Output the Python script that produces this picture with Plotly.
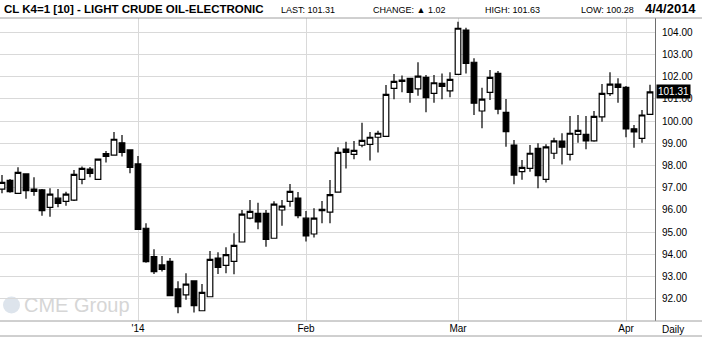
import plotly.graph_objects as go

# ---- data ----
dates = [
    "2013-12-06", "2013-12-09", "2013-12-10", "2013-12-11", "2013-12-12", "2013-12-13",
    "2013-12-16", "2013-12-17", "2013-12-18", "2013-12-19", "2013-12-20", "2013-12-23",
    "2013-12-24", "2013-12-26", "2013-12-27", "2013-12-30", "2013-12-31",
    "2014-01-02", "2014-01-03", "2014-01-06", "2014-01-07", "2014-01-08", "2014-01-09",
    "2014-01-10", "2014-01-13", "2014-01-14", "2014-01-15", "2014-01-16", "2014-01-17",
    "2014-01-21", "2014-01-22", "2014-01-23", "2014-01-24", "2014-01-27", "2014-01-28",
    "2014-01-29", "2014-01-30", "2014-01-31",
    "2014-02-03", "2014-02-04", "2014-02-05", "2014-02-06", "2014-02-07", "2014-02-10",
    "2014-02-11", "2014-02-12", "2014-02-13", "2014-02-14", "2014-02-18", "2014-02-19",
    "2014-02-20", "2014-02-21", "2014-02-24", "2014-02-25", "2014-02-26", "2014-02-27",
    "2014-02-28",
    "2014-03-03", "2014-03-04", "2014-03-05", "2014-03-06", "2014-03-07", "2014-03-10",
    "2014-03-11", "2014-03-12", "2014-03-13", "2014-03-14", "2014-03-17", "2014-03-18",
    "2014-03-19", "2014-03-20", "2014-03-21", "2014-03-24", "2014-03-25", "2014-03-26",
    "2014-03-27", "2014-03-28", "2014-03-31",
    "2014-04-01", "2014-04-02", "2014-04-03", "2014-04-04",
]
opens = [
    96.94, 97.33, 96.75, 97.62, 96.84, 96.90, 96.12, 96.53, 96.39, 96.44, 97.38, 97.84,
    97.38, 98.53, 98.47, 99.02, 98.70,
    98.07, 95.18, 93.90, 93.53, 93.69, 92.45, 92.18, 92.81, 91.47, 92.10, 93.84, 93.51,
    93.69, 94.56, 95.63, 95.85, 95.85, 94.73, 96.00, 96.39, 96.54,
    95.63, 94.92, 96.03, 95.90, 96.80, 98.74, 98.50, 98.91, 98.95, 99.27, 99.31, 101.47,
    101.84, 101.92, 101.44, 101.96, 101.24, 101.69, 101.35,
    102.10, 104.09, 102.64, 100.45, 101.29, 102.14, 100.39, 98.92, 97.72, 97.87, 98.77,
    97.38, 98.55, 99.10, 98.50, 99.40, 99.40, 99.11, 100.19, 101.23, 101.66,
    101.51, 99.65, 99.22, 100.30,
]
highs = [
    97.57, 97.39, 97.92, 97.65, 97.47, 96.94, 96.98, 96.94, 96.82, 97.80, 97.95, 97.93,
    98.32, 98.65, 99.51, 99.37, 98.72,
    98.43, 95.40, 94.23, 93.93, 93.84, 92.80, 93.16, 92.81, 92.67, 94.16, 94.10, 94.32,
    94.95, 96.00, 96.45, 96.33, 96.00, 96.39, 96.45, 97.17, 96.81,
    95.96, 96.08, 96.40, 97.35, 98.82, 99.07, 99.10, 99.92, 99.51, 99.56, 101.62, 102.11,
    102.05, 101.92, 102.64, 102.07, 102.07, 102.14, 102.19,
    104.46, 104.19, 102.82, 101.50, 102.29, 102.25, 100.99, 99.15, 98.25, 98.92, 99.00,
    98.95, 99.25, 99.45, 100.22, 100.27, 100.22, 100.45, 101.66, 102.19, 101.92,
    101.57, 99.82, 100.49, 101.63,
]
lows = [
    96.75, 96.78, 96.75, 96.51, 96.64, 95.74, 95.70, 96.12, 96.19, 96.40, 97.16, 97.47,
    97.35, 98.14, 98.47, 98.40, 97.65,
    95.10, 93.63, 93.12, 93.23, 92.15, 91.36, 91.96, 91.39, 91.47, 92.10, 93.12, 93.16,
    93.11, 94.56, 95.58, 95.13, 94.35, 94.73, 95.29, 96.15, 95.63,
    94.58, 94.76, 95.40, 95.40, 96.78, 97.87, 98.28, 98.82, 98.22, 98.58, 99.31, 100.98,
    101.29, 100.82, 101.14, 100.39, 100.82, 100.98, 101.07,
    102.10, 102.14, 100.27, 99.67, 100.94, 100.30, 98.84, 97.16, 97.36, 97.72, 96.98,
    97.24, 98.29, 98.05, 98.22, 99.02, 98.73, 99.07, 99.97, 101.12, 100.82,
    99.27, 98.80, 99.02, 100.28,
]
closes = [
    97.24, 96.82, 97.69, 96.87, 96.94, 95.97, 96.71, 96.30, 96.71, 97.60, 97.87, 97.65,
    98.29, 98.41, 99.18, 98.59, 97.92,
    95.13, 93.68, 93.23, 93.33, 92.15, 91.65, 92.67, 91.70, 92.30, 93.78, 93.42, 93.99,
    94.41, 95.81, 95.94, 95.47, 94.68, 96.26, 96.17, 96.84, 95.74,
    94.84, 95.63, 95.97, 96.69, 98.59, 98.59, 98.68, 99.13, 99.27, 99.45, 101.20, 101.78,
    101.78, 101.29, 102.02, 101.05, 101.72, 101.56, 101.87,
    104.17, 102.59, 100.80, 100.98, 101.96, 100.53, 99.52, 97.57, 97.92, 98.55, 97.54,
    98.84, 99.11, 98.82, 99.45, 99.58, 99.11, 100.21, 101.24, 101.66, 101.51,
    99.64, 99.51, 100.27, 101.31,
]
tick_dates = ["2014-01-02", "2014-02-03", "2014-03-03", "2014-04-01"]
tick_text = ["'14", "Feb", "Mar", "Apr"]
y_ticks = [92, 93, 94, 95, 96, 97, 98, 99, 100, 101, 102, 103, 104]

title_text = "CL K4=1 [10] - LIGHT CRUDE OIL-ELECTRONIC"
last_val = 101.31
change_val = 1.02
high_val = 101.63
low_val = 100.28
date_text = "4/4/2014"

# ---- layout geometry (pixels) ----
W, H = 702, 337
PL, PR, PT, PB = 0, 655, 18, 321
pw, ph = PR - PL, PB - PT


def px(x):
    return (x - PL) / pw


def py(y):
    return (PB - y) / ph


fig = go.Figure()
fig.add_trace(go.Candlestick(
    x=dates, open=opens, high=highs, low=lows, close=closes,
    increasing=dict(line=dict(color="#000000", width=1.2), fillcolor="#ffffff"),
    decreasing=dict(line=dict(color="#000000", width=1.2), fillcolor="#000000"),
    whiskerwidth=0,
    showlegend=False,
    hoverinfo="skip",
))

base_font = "Liberation Sans, Arial, sans-serif"

fig.update_layout(
    width=W, height=H,
    margin=dict(l=PL, r=W - PR, t=PT, b=H - PB, pad=0),
    paper_bgcolor="#ffffff",
    plot_bgcolor="#ffffff",
    boxgap=0.3, boxgroupgap=0.0,
    font=dict(family=base_font, size=10, color="#000000"),
    xaxis=dict(
        type="category",
        categoryorder="array", categoryarray=dates,
        range=[-0.25, len(dates) - 1 + 0.625],
        rangeslider=dict(visible=False),
        tickmode="array", tickvals=tick_dates, ticktext=tick_text,
        showgrid=True, gridcolor="#d9d9d9", gridwidth=1,
        showline=False, zeroline=False, ticks="",
        tickfont=dict(size=10, family=base_font, color="#000000"),
        fixedrange=True,
    ),
    yaxis=dict(
        side="right",
        range=[91.01, 104.63],
        tickmode="array", tickvals=y_ticks,
        tickformat=".2f",
        showgrid=True, gridcolor="#d9d9d9", gridwidth=1,
        showline=True, linecolor="#6e6e6e", linewidth=1,
        zeroline=False, ticks="",
        ticklabelstandoff=4,
        tickfont=dict(size=10, family=base_font, color="#000000"),
        fixedrange=True,
    ),
)

xr = W / pw  # paper x of right page edge

shapes = [
    dict(type="line", xref="paper", yref="paper", x0=0, x1=xr, y0=py(18), y1=py(18),
         line=dict(color="#a0a0a0", width=1)),
    dict(type="line", xref="paper", yref="paper", x0=0, x1=xr, y0=0, y1=0,
         line=dict(color="#a0a0a0", width=1)),
    dict(type="line", xref="paper", yref="paper", x0=0, x1=xr, y0=py(336), y1=py(336),
         line=dict(color="#a0a0a0", width=1)),
    dict(type="circle", xref="paper", yref="paper", x0=px(3), x1=px(20), y0=py(313.5), y1=py(296.5),
         line=dict(width=0), fillcolor="#dde4ec", layer="below"),
]

annotations = [
    dict(text="<b>" + title_text + "</b>", x=px(2), y=py(9), xref="paper", yref="paper",
         xanchor="left", yanchor="middle", showarrow=False,
         font=dict(family=base_font, size=11.5, color="#000000")),
    dict(text=f"LAST: {last_val:.2f}", x=px(279), y=py(10), xref="paper", yref="paper",
         xanchor="left", yanchor="middle", showarrow=False, font=dict(size=9)),
    dict(text=f"CHANGE: \u25b2 {change_val:.2f}", x=px(371), y=py(10), xref="paper", yref="paper",
         xanchor="left", yanchor="middle", showarrow=False, font=dict(size=9)),
    dict(text=f"HIGH: {high_val:.2f}", x=px(483), y=py(10), xref="paper", yref="paper",
         xanchor="left", yanchor="middle", showarrow=False, font=dict(size=9)),
    dict(text=f"LOW: {low_val:.2f}", x=px(579), y=py(10), xref="paper", yref="paper",
         xanchor="left", yanchor="middle", showarrow=False, font=dict(size=9)),
    dict(text="<b>" + date_text + "</b>", x=px(698), y=py(9), xref="paper", yref="paper",
         xanchor="right", yanchor="middle", showarrow=False,
         font=dict(family=base_font, size=13, color="#000000")),
    dict(text=f"{last_val:.2f}", x=px(656), y=last_val, xref="paper", yref="y",
         xanchor="left", yanchor="middle", showarrow=False,
         bgcolor="#000000", font=dict(size=10, color="#ffffff"), borderpad=1),
    dict(text="Daily", x=px(673), y=py(329), xref="paper", yref="paper",
         xanchor="center", yanchor="middle", showarrow=False, font=dict(size=10)),
    dict(text="CME Group", x=px(22), y=py(305), xref="paper", yref="paper",
         xanchor="left", yanchor="middle", showarrow=False,
         font=dict(size=20, color="#d6d6d6", family=base_font)),
]

fig.update_layout(shapes=shapes, annotations=annotations)

fig.write_html("out.html")
